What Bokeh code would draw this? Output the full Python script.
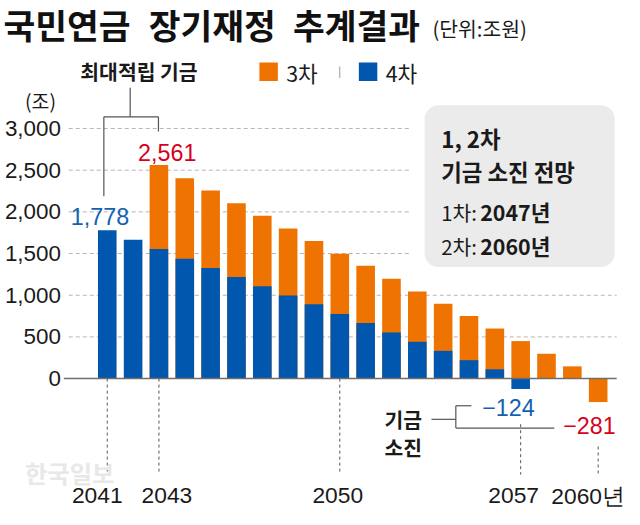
from bokeh.plotting import figure
from bokeh.models import Range1d, ColumnDataSource, BoxAnnotation
from bokeh.core.properties import value
from bokeh.embed import file_html
from bokeh.resources import INLINE

# ---------------- data ----------------
years = list(range(2041, 2061))
plan4 = [1778, 1665, 1556, 1439, 1327, 1218, 1109, 996, 891, 775, 667, 554, 442, 333, 221, 112, -124, None, None, None]
plan3 = [None, None, 2561, 2404, 2256, 2104, 1953, 1801, 1649, 1498, 1354, 1198, 1046, 899, 752, 601, 450, 298, 147, -281]
y_ticks = [0, 500, 1000, 1500, 2000, 2500, 3000]
x_ticks = [2041, 2043, 2050, 2057, 2060]
x_tick_labels = ["2041", "2043", "2050", "2057", "2060년"]
title_words = ["국민연금", "장기재정", "추계결과"]
unit_text = "(단위:조원)"
series_names = ["3차", "4차"]
box_lines = ["1, 2차", "기금 소진 전망"]
box_rows = [("1차:", "2047년"), ("2차:", "2060년")]

ORANGE = "#EF7300"
BLUE = "#0057AD"
RED = "#D7001C"
BLUE_T = "#1560B0"
DARK = "#1a1a1a"
KR = value("Noto Sans CJK KR")
NUM = value("Liberation Sans")

W, H = 624, 509
S = 0.972  # overall scale from the 640x525 reference


def fs(n):
    return f"{n * S:.1f}px"


def fmt(v):
    return f"{v:,}".replace("-", "\u2212")


# reference-pixel helpers (for annotation placement only)
X0, DX = 109.5, 26.5
Y0, DY = 390.0, 43.0 / 500.0


def px(x):
    return 2041 + (x - X0) / DX


def py(y):
    return (Y0 - y) / DY


p = figure(width=W, height=H, output_backend="svg", toolbar_location=None,
           x_range=Range1d(px(0), px(640)), y_range=Range1d(py(525), py(0)),
           x_axis_location=None, y_axis_location=None, min_border=0,
           background_fill_color="white", border_fill_color="white")
p.grid.visible = False
p.outline_line_color = None

# grey info box
p.add_layout(BoxAnnotation(left=px(435), right=px(630), top=py(108), bottom=py(275),
                           fill_color="#ebebeb", fill_alpha=1.0, line_color=None,
                           border_radius=14, level="underlay"))

# gridlines (stop short of the grey box where they pass behind it)
g_x0, g_x1 = [], []
for t in y_ticks[1:]:
    g_x0.append(px(70))
    g_x1.append(px(421) if py(275) <= t <= py(108) + 1 else px(632))
p.segment(x0=g_x0, y0=y_ticks[1:], x1=g_x1, y1=y_ticks[1:], line_color="#b5b5b5",
          line_width=1, line_dash="4 3")

# bars: 3차 (orange) behind, 4차 (blue) in front
s3 = ColumnDataSource(dict(x=[y for y, v in zip(years, plan3) if v is not None],
                           top=[v for v in plan3 if v is not None]))
s4 = ColumnDataSource(dict(x=[y for y, v in zip(years, plan4) if v is not None],
                           top=[v for v in plan4 if v is not None]))
p.vbar(x="x", top="top", bottom=0, width=0.72, source=s3, fill_color=ORANGE, line_color=None)
p.vbar(x="x", top="top", bottom=0, width=0.72, source=s4, fill_color=BLUE, line_color=None)

# zero line
p.segment(x0=[px(65)], y0=[0], x1=[px(632)], y1=[0], line_color="#6e6e6e", line_width=1.5)

# y tick labels
p.text(x=[px(62)] * len(y_ticks), y=y_ticks, text=[f"{t:,}" for t in y_ticks],
       text_align="right", text_baseline="middle", text_font=NUM, text_font_size=fs(23),
       text_color=DARK)
p.text(x=[px(41)], y=[py(103)], text=["(조)"], text_align="center", text_baseline="middle",
       text_font=KR, text_font_size=fs(20), text_color=DARK)

# dashed drop lines to year labels
drop_start = {2041: 0, 2043: 0, 2050: 0, 2057: py(437), 2060: py(460)}
p.segment(x0=x_ticks, y0=[drop_start[t] for t in x_ticks], x1=x_ticks, y1=[py(489)] * len(x_ticks),
          line_color="#555555", line_width=1, line_dash="3 3")

# watermark
p.text(x=[px(71)], y=[py(487)], text=["한국일보"], text_align="center", text_baseline="middle",
       text_font=KR, text_font_size=fs(25), text_font_style="bold", text_color="#e8e8e8")

# year labels
x_off = [-10, 8, -2, -7, -10]
p.text(x=x_ticks, y=[py(511)] * len(x_ticks), text=x_tick_labels, x_offset=x_off,
       text_align="center", text_baseline="middle", text_font=NUM, text_font_size=fs(23.5),
       text_color=DARK)

# value labels
first4 = plan4[0]
peak3 = max(v for v in plan3 if v is not None)
min4 = min(v for v in plan4 if v is not None)
min3 = min(v for v in plan3 if v is not None)
p.text(x=[px(102)], y=[py(223)], text=[fmt(first4)], text_align="center", text_baseline="middle",
       text_font=NUM, text_font_size=fs(24), text_color=BLUE_T)
p.text(x=[px(171)], y=[py(157)], text=[fmt(peak3)], text_align="center", text_baseline="middle",
       text_font=NUM, text_font_size=fs(24), text_color=RED)
p.text(x=[px(521)], y=[py(420)], text=[fmt(min4)], text_align="center", text_baseline="middle",
       text_font=NUM, text_font_size=fs(24), text_color=BLUE_T)
p.text(x=[px(604)], y=[py(438)], text=[fmt(min3)], text_align="center", text_baseline="middle",
       text_font=NUM, text_font_size=fs(24), text_color=RED)

# brackets
LC = "#555555"
p.segment(x0=[px(133), px(106), px(106), px(162)], y0=[py(90), py(120), py(120), py(120)],
          x1=[px(133), px(162), px(106), px(162)], y1=[py(120), py(120), py(202), py(135)],
          line_color=LC, line_width=1.2)
p.segment(x0=[px(442), px(467), px(467), px(467)], y0=[py(432), py(418), py(418), py(441)],
          x1=[px(467), px(467), px(483), px(568)], y1=[py(432), py(441), py(418), py(441)],
          line_color=LC, line_width=1.2)
p.text(x=[px(413), px(413)], y=[py(432), py(461)], text=["기금", "소진"], text_align="center",
       text_baseline="middle", text_font=KR, text_font_size=fs(21), text_font_style="bold",
       text_color=DARK)

# title
for word, lx in zip(title_words, [3, 152, 300]):
    p.text(x=[px(lx)], y=[py(24)], text=[word], text_align="left", text_baseline="middle",
           text_font=KR, text_font_size=fs(35.5), text_font_style="bold", text_color="#111111")
p.text(x=[px(443)], y=[py(28)], text=[unit_text], text_align="left", text_baseline="middle",
       text_font=KR, text_font_size=fs(21), text_color=DARK)

# legend
p.text(x=[px(142)], y=[py(73)], text=["최대적립 기금"], text_align="center", text_baseline="middle",
       text_font=KR, text_font_size=fs(21), text_font_style="bold", text_color=DARK)
p.scatter(x=[px(275), px(377)], y=[py(73.5), py(73.5)], marker="square", size=19 * S,
          fill_color=[ORANGE, BLUE], line_color=None)
p.text(x=[px(293), px(395)], y=[py(74), py(74)], text=series_names, text_align="left",
       text_baseline="middle", text_font=KR, text_font_size=fs(22), text_color=DARK)
p.segment(x0=[px(348)], y0=[py(68)], x1=[px(348)], y1=[py(80)], line_color="#999999", line_width=1)

# box texts
p.text(x=[px(452)], y=[py(142)], text=[box_lines[0]], text_align="left", text_baseline="middle",
       text_font=KR, text_font_size=fs(23), text_font_style="bold", text_color=DARK)
p.text(x=[px(452)], y=[py(176)], text=[box_lines[1]], text_align="left", text_baseline="middle",
       text_font=KR, text_font_size=fs(23), text_font_style="bold", text_color=DARK)
for (lab, yr), yy in zip(box_rows, [218, 253]):
    p.text(x=[px(452)], y=[py(yy)], text=[lab], text_align="left", text_baseline="middle",
           text_font=KR, text_font_size=fs(21), text_color=DARK)
    p.text(x=[px(492)], y=[py(yy)], text=[yr], text_align="left", text_baseline="middle",
           text_font=KR, text_font_size=fs(22), text_font_style="bold", text_color=DARK)

open("out.html", "w").write(file_html(p, INLINE))
